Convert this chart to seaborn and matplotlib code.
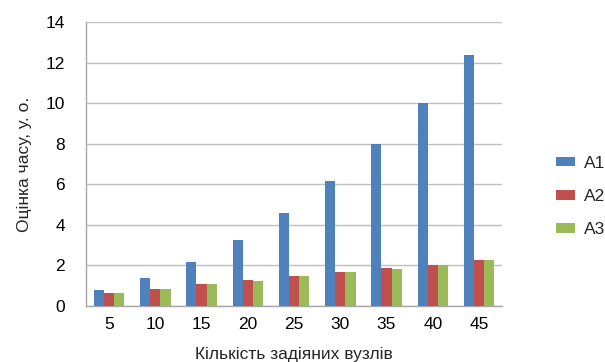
import pandas as pd
import seaborn as sns
import matplotlib.pyplot as plt
from matplotlib.ticker import MultipleLocator, FixedLocator

# node counts on x axis
nodes = [5, 10, 15, 20, 25, 30, 35, 40, 45]
a1 = [0.77, 1.37, 2.15, 3.26, 4.56, 6.17, 8.01, 10.02, 12.37]
a2 = [0.62, 0.84, 1.07, 1.28, 1.46, 1.68, 1.89, 2.04, 2.25]
a3 = [0.62, 0.84, 1.07, 1.23, 1.46, 1.66, 1.84, 2.04, 2.25]
series = ["A1", "A2", "A3"]
colors = ["#4F81BD", "#C0504D", "#9BBB59"]

rows = []
for name, vals in zip(series, [a1, a2, a3]):
    for n, v in zip(nodes, vals):
        rows.append({"nodes": str(n), "series": name, "value": v})
df = pd.DataFrame(rows)

sns.set_style("white")
plt.rcParams["font.family"] = ["Liberation Sans", "DejaVu Sans"]
FS = 12.5

fig = plt.figure(figsize=(6.05, 3.62), dpi=100)
ax = fig.add_axes([0.142, 0.155, 0.688, 0.784])

sns.barplot(data=df, x="nodes", y="value", hue="series", palette=colors,
            width=0.66, saturation=1, linewidth=0, ax=ax, zorder=3)

ax.set_ylim(0, 14)
ax.set_xlim(-0.5, len(nodes) - 0.5)
ax.yaxis.set_major_locator(MultipleLocator(2))
ax.grid(axis="y", color="#BFBFBF", linewidth=1, zorder=0)
ax.set_axisbelow(True)

for s in ["top", "right"]:
    ax.spines[s].set_visible(False)
for s in ["left", "bottom"]:
    ax.spines[s].set_color("#A6A6A6")
    ax.spines[s].set_linewidth(1)

# category boundaries get the tick marks
ax.xaxis.set_minor_locator(FixedLocator([i - 0.5 for i in range(len(nodes) + 1)]))
ax.tick_params(axis="x", which="major", length=0, labelsize=FS, colors="black", pad=8)
ax.tick_params(axis="x", which="minor", length=3, color="#A6A6A6", direction="out")
ax.tick_params(axis="y", length=4, color="#A6A6A6", labelsize=FS, labelcolor="black",
               direction="out", pad=11)

ax.set_xlabel("Кількість задіяних вузлів", fontsize=FS, labelpad=11)
ax.set_ylabel("Оцінка часу, у. о.", fontsize=FS, labelpad=10)

handles, labels = ax.get_legend_handles_labels()
ax.legend(handles, labels, title=None, frameon=False, loc="center left",
          bbox_to_anchor=(0.919, 0.457), bbox_transform=fig.transFigure,
          borderaxespad=0, borderpad=0,
          fontsize=FS, handlelength=1.1, handleheight=0.45, labelspacing=1.05,
          handletextpad=0.5)

fig.savefig("out.png", dpi=100)
